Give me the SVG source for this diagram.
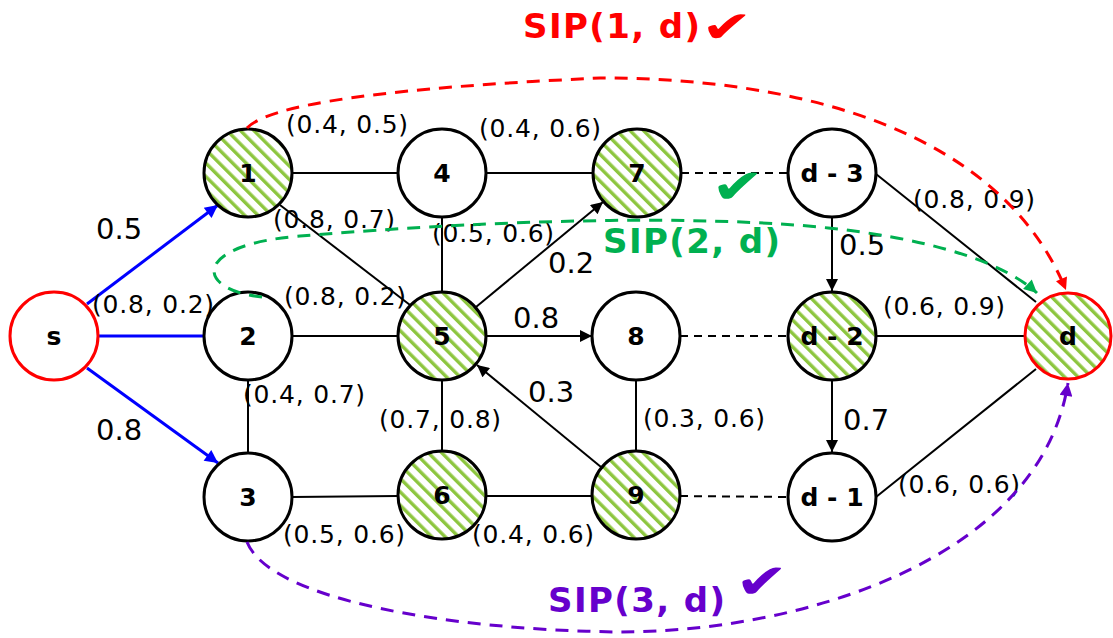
<svg xmlns="http://www.w3.org/2000/svg" width="1113" height="638" viewBox="0 0 1113 638">
<defs>
<style>
.n{stroke:#000;stroke-width:3;fill:#fff}
.h{fill:url(#hatch)}
.rd{stroke:#f00}
.e{stroke:#000;stroke-width:2;fill:none}
.dsh{stroke-dasharray:8 6}
.b{stroke:#0000ff;stroke-width:3;fill:none}
.lbl{font-family:"DejaVu Sans","Liberation Sans",sans-serif;font-size:25px;letter-spacing:0.8px;fill:#000}
.num{font-family:"DejaVu Sans","Liberation Sans",sans-serif;font-size:29px;fill:#000}
.nl{font-family:"DejaVu Sans","Liberation Sans",sans-serif;font-weight:bold;font-size:25px;text-anchor:middle;fill:#000}
.sip{font-family:"DejaVu Sans","Liberation Sans",sans-serif;font-weight:bold;font-size:34px;letter-spacing:1.4px}
.chk{font-family:"DejaVu Sans",sans-serif;font-size:44px}
.cv{fill:none;stroke-width:3;stroke-dasharray:13 9}
</style>
<pattern id="hatch" width="9.5" height="9.5" patternUnits="userSpaceOnUse" patternTransform="rotate(-45)">
<rect width="9.5" height="9.5" fill="#fff"/>
<rect width="3.4" height="9.5" fill="#8DC63F"/>
</pattern>
<marker id="ak" viewBox="0 0 10 10" refX="10" refY="5" markerWidth="15" markerHeight="12" markerUnits="userSpaceOnUse" orient="auto"><path d="M0,0 L10,5 L0,10 z" fill="#000"/></marker>
<marker id="ab" viewBox="0 0 10 10" refX="10" refY="5" markerWidth="16" markerHeight="13" markerUnits="userSpaceOnUse" orient="auto"><path d="M0,0 L10,5 L0,10 z" fill="#0000ff"/></marker>
<marker id="ar" viewBox="0 0 10 10" refX="10" refY="5" markerWidth="14" markerHeight="12" markerUnits="userSpaceOnUse" orient="auto"><path d="M0,0 L10,5 L0,10 z" fill="#f00"/></marker>
<marker id="ag" viewBox="0 0 10 10" refX="10" refY="5" markerWidth="16" markerHeight="13" markerUnits="userSpaceOnUse" orient="auto"><path d="M0,0 L10,5 L0,10 z" fill="#00B050"/></marker>
<marker id="ap" viewBox="0 0 10 10" refX="10" refY="5" markerWidth="16" markerHeight="13" markerUnits="userSpaceOnUse" orient="auto"><path d="M0,0 L10,5 L0,10 z" fill="#6600CC"/></marker>
</defs>
<rect width="1113" height="638" fill="#fff"/>

<g id="connectors">
<line class="b" x1="87" y1="304" x2="218" y2="205" marker-end="url(#ab)"/>
<line class="b" x1="99" y1="336" x2="204" y2="336"/>
<line class="b" x1="87" y1="368" x2="218" y2="463" marker-end="url(#ab)"/>
<line class="e" x1="292" y1="173" x2="398" y2="173"/>
<line class="e" x1="486" y1="173" x2="593" y2="173"/>
<line class="e dsh" x1="681" y1="173" x2="788" y2="173"/>
<line class="e" x1="280" y1="205" x2="410" y2="305"/>
<line class="e" x1="442" y1="217" x2="442" y2="292"/>
<line class="e" x1="476" y1="307" x2="603" y2="202" marker-end="url(#ak)"/>
<line class="e" x1="292" y1="336" x2="398" y2="336"/>
<line class="e" x1="486" y1="336" x2="592" y2="336" marker-end="url(#ak)"/>
<line class="e dsh" x1="680" y1="336" x2="788" y2="336"/>
<line class="e" x1="248" y1="380" x2="248" y2="453"/>
<line class="e" x1="442" y1="380" x2="442" y2="451"/>
<line class="e" x1="601" y1="467" x2="477" y2="365" marker-end="url(#ak)"/>
<line class="e" x1="636" y1="380" x2="636" y2="452"/>
<line class="e" x1="292" y1="497" x2="398" y2="496"/>
<line class="e" x1="486" y1="496" x2="592" y2="496"/>
<line class="e dsh" x1="680" y1="496" x2="788" y2="497"/>
<line class="e" x1="832" y1="217" x2="832" y2="291" marker-end="url(#ak)"/>
<line class="e" x1="832" y1="380" x2="832" y2="452" marker-end="url(#ak)"/>
<line class="e" x1="876" y1="174" x2="1036" y2="302"/>
<line class="e" x1="876" y1="336" x2="1024" y2="336"/>
<line class="e" x1="876" y1="497" x2="1036" y2="369"/>
</g>

<g id="edge-labels">
<text class="num" x="96" y="239">0.5</text>
<text class="num" x="96" y="440">0.8</text>
<text class="lbl" x="92" y="313">(0.8, 0.2)</text>
<text class="lbl" x="286" y="133">(0.4, 0.5)</text>
<text class="lbl" x="479" y="137">(0.4, 0.6)</text>
<text class="lbl" x="273" y="228">(0.8, 0.7)</text>
<text class="lbl" x="432" y="242">(0.5, 0.6)</text>
<text class="num" x="548" y="273">0.2</text>
<text class="lbl" x="284" y="305">(0.8, 0.2)</text>
<text class="num" x="513" y="328">0.8</text>
<text class="lbl" x="243" y="403">(0.4, 0.7)</text>
<text class="lbl" x="379" y="428">(0.7, 0.8)</text>
<text class="num" x="528" y="402">0.3</text>
<text class="lbl" x="643" y="427">(0.3, 0.6)</text>
<text class="lbl" x="283" y="543">(0.5, 0.6)</text>
<text class="lbl" x="472" y="543">(0.4, 0.6)</text>
<text class="lbl" x="913" y="208">(0.8, 0.9)</text>
<text class="num" x="839" y="255">0.5</text>
<text class="lbl" x="883" y="315">(0.6, 0.9)</text>
<text class="num" x="843" y="430">0.7</text>
<text class="lbl" x="898" y="493">(0.6, 0.6)</text>
</g>

<g id="node-s"><circle class="n rd" cx="54" cy="336" r="44"/><text class="nl" x="54" y="345">s</text></g>
<g id="node-1"><circle class="n h" cx="248" cy="173" r="44"/><text class="nl" x="248" y="182">1</text></g>
<g id="node-2"><circle class="n" cx="248" cy="336" r="44"/><text class="nl" x="248" y="345">2</text></g>
<g id="node-3"><circle class="n" cx="248" cy="497" r="44"/><text class="nl" x="248" y="506">3</text></g>
<g id="node-4"><circle class="n" cx="442" cy="173" r="44"/><text class="nl" x="442" y="182">4</text></g>
<g id="node-5"><circle class="n h" cx="442" cy="336" r="44"/><text class="nl" x="442" y="345">5</text></g>
<g id="node-6"><circle class="n h" cx="442" cy="495" r="44"/><text class="nl" x="442" y="504">6</text></g>
<g id="node-7"><circle class="n h" cx="637" cy="173" r="44"/><text class="nl" x="637" y="182">7</text></g>
<g id="node-8"><circle class="n" cx="636" cy="336" r="44"/><text class="nl" x="636" y="345">8</text></g>
<g id="node-9"><circle class="n h" cx="636" cy="495" r="44"/><text class="nl" x="636" y="504">9</text></g>
<g id="node-d3"><circle class="n" cx="832" cy="173" r="44"/><text class="nl" x="832" y="182">d - 3</text></g>
<g id="node-d2"><circle class="n h" cx="832" cy="336" r="44"/><text class="nl" x="832" y="345">d - 2</text></g>
<g id="node-d1"><circle class="n" cx="832" cy="497" r="44"/><text class="nl" x="832" y="506">d - 1</text></g>
<g id="node-d"><circle class="n h rd" cx="1068" cy="336" r="43"/><text class="nl" x="1068" y="345">d</text></g>

<g id="sip-paths">
<path class="cv" stroke="#f00" d="M247 128 C275 98 450 85 600 78 C800 78 1000 130 1066 290" marker-end="url(#ar)"/>
<path class="cv" stroke="#00B050" d="M262 297 C195 290 190 245 300 236 C420 226 620 214 780 224 C880 230 990 250 1037 293" marker-end="url(#ag)"/>
<path class="cv" stroke="#6600CC" d="M247 542 C270 600 450 630 620 632 C800 632 1040 560 1068 383" marker-end="url(#ap)"/>
</g>

<g id="sip-labels">
<text class="sip" x="523" y="38" fill="#f00">SIP(1, d)</text>
<text class="chk" transform="translate(701 42) scale(1.4 1.0)" fill="#f00">✔</text>
<text class="sip" x="603" y="253" fill="#00B050">SIP(2, d)</text>
<text class="chk" transform="translate(711 203) scale(1.45 1.1)" fill="#00B050">✔</text>
<text class="sip" x="548" y="612" fill="#6600CC">SIP(3, d)</text>
<text class="chk" transform="translate(735 598) scale(1.45 1.1)" fill="#6600CC">✔</text>
</g>
</svg>
